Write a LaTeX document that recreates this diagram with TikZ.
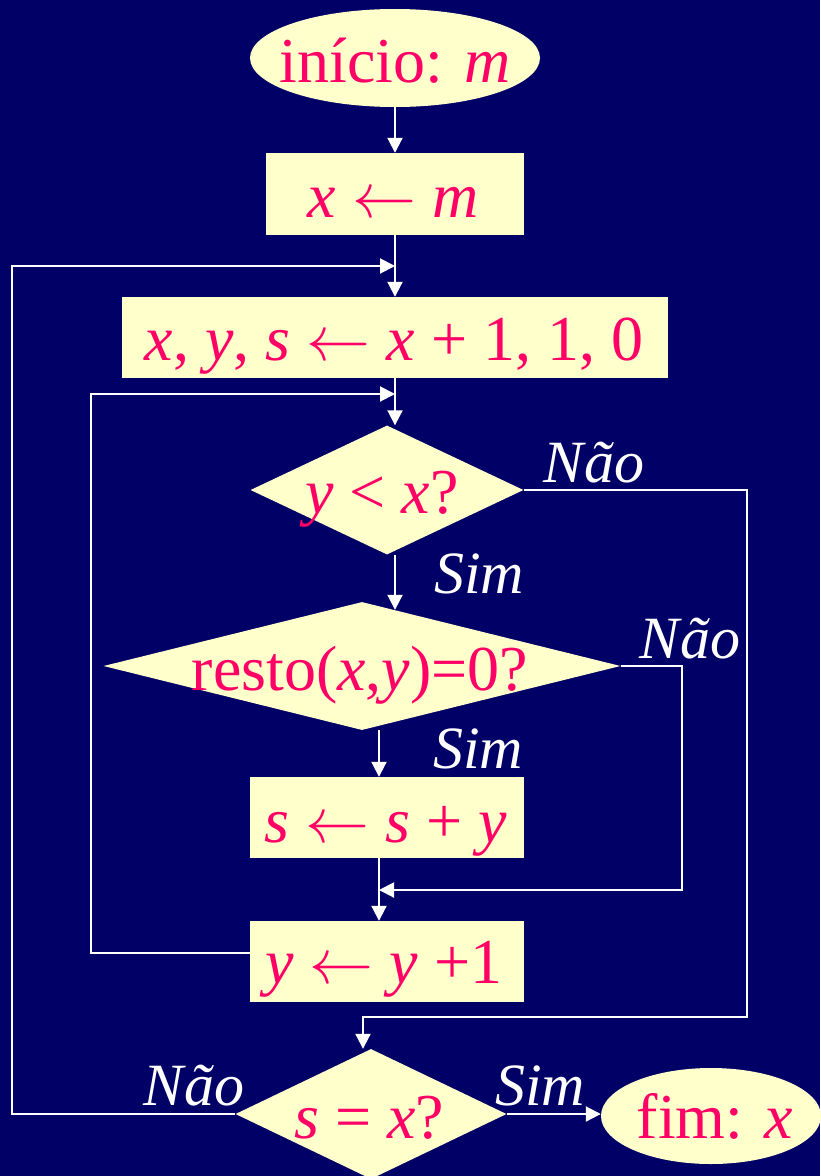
\documentclass[tikz,border=0pt]{standalone}
\usepackage{fix-cm}
\usepackage{fontspec}
\setmainfont{Liberation Serif}
\usepackage{tikz}
\usetikzlibrary{arrows.meta,shapes.geometric,calc}
\definecolor{navy}{HTML}{000066}
\definecolor{cream}{HTML}{FFFFCC}
\definecolor{rose}{HTML}{FF0066}
\newcommand{\va}[1]{\textit{#1}}

\begin{document}
\begin{tikzpicture}[x=1pt, y=-1pt, font=\fontsize{64}{70}\selectfont]
  \tikzset{
    procbox/.style={rectangle, fill=cream, inner sep=0pt},
    decbox/.style ={diamond, fill=cream, inner sep=0pt},
    endbox/.style ={ellipse, fill=cream, inner sep=0pt},
    txt/.style    ={anchor=base, inner sep=0pt, text=rose},
    lbl/.style    ={anchor=base, inner sep=0pt, text=white, font=\fontsize{60}{66}\selectfont\itshape},
    wire/.style   ={draw=white, line width=2pt},
    flow/.style   ={wire, -{Triangle[length=15pt,width=15pt]}},
  }
  \useasboundingbox (0,0) rectangle (820,1176);
  \fill[navy] (0,0) rectangle (820,1176);

  % shapes
  \node[endbox, minimum width=290pt, minimum height=98pt] (start) at (395,58) {};
  \node[procbox, minimum width=258pt, minimum height=82pt] (init) at (395,194) {};
  \node[procbox, minimum width=546pt, minimum height=81pt] (next) at (395,337.5) {};
  \node[decbox, minimum width=273pt, minimum height=129pt] (less) at (387,490) {};
  \node[decbox, minimum width=517pt, minimum height=128pt] (rest) at (362,666) {};
  \node[procbox, minimum width=274pt, minimum height=81pt] (sum) at (387,817.5) {};
  \node[procbox, minimum width=274pt, minimum height=81pt] (incr) at (387,961.5) {};
  \node[decbox, minimum width=271pt, minimum height=130pt] (perf) at (371,1114) {};
  \node[endbox, minimum width=220pt, minimum height=96pt] (stop) at (711,1116) {};

  % texts
  \node[txt] (start-t) at (395,82) {início: \va{m}};
  \node[txt] (init-t) at (393,217) {\va{x} $\leftarrow$ \va{m}};
  \node[txt] (next-t) at (394,360) {\va{x}, \va{y}, \va{s} $\leftarrow$ \va{x} + 1, 1, 0};
  \node[txt] (less-t) at (382,513) {\va{y} < \va{x}?};
  \node[txt] (rest-t) at (360,690) {resto(\va{x},\va{y})=0?};
  \node[txt] (sum-t) at (386,842) {\va{s} $\leftarrow$ \va{s} + \va{y}};
  \node[txt] (incr-t) at (384,983) {\va{y} $\leftarrow$ \va{y} +1};
  \node[txt] (perf-t) at (369,1138) {\va{s} = \va{x}?};
  \node[txt] (stop-t) at (715,1138) {fim: \va{x}};

  % labels
  \node[lbl] (less-no) at (594,482) {Não};
  \node[lbl] (less-yes) at (479,593) {Sim};
  \node[lbl] (rest-no) at (690,658) {Não};
  \node[lbl] (rest-yes) at (478,768) {Sim};
  \node[lbl] (perf-no) at (194,1105) {Não};
  \node[lbl] (perf-yes) at (540,1105) {Sim};

  % corners
  \coordinate (axA) at (395,0);
  \coordinate (axB) at (379,0);
  \coordinate (jA) at (395,266);
  \coordinate (cA) at (12,266);
  \coordinate (jB) at (395,394);
  \coordinate (cB1) at (91,953);
  \coordinate (cB2) at (91,394);
  \coordinate (cC) at (747,1017);
  \coordinate (jC) at (363,1017);
  \coordinate (cD) at (682,890);
  \coordinate (jD) at (379,890);

  % connectors
  \draw[flow] (start.south) -- (init.north);
  \draw[flow] (init.south) -- (next.north);
  \draw[flow] (next.south) -- (axA |- less.north);
  \draw[flow] (axA |- less.south) -- ($(axA |- rest.north)+(0,8)$);
  \draw[flow] (axB |- rest.south) -- (axB |- sum.north);
  \draw[flow] (axB |- sum.south) -- (axB |- incr.north);
  \draw[flow] (perf.east) -- (perf.east -| stop.west);
  \draw[flow] (perf.west) -| (cA) -- (jA);
  \draw[flow] (cB1 -| incr.west) -- (cB1) -- (cB2) -- (jB);
  \draw[flow] (less.east) -| (cC) -- (jC) -- (jC |- perf.north);
  \draw[flow] (rest.east) -| (cD) -- (jD);
\end{tikzpicture}
\end{document}
